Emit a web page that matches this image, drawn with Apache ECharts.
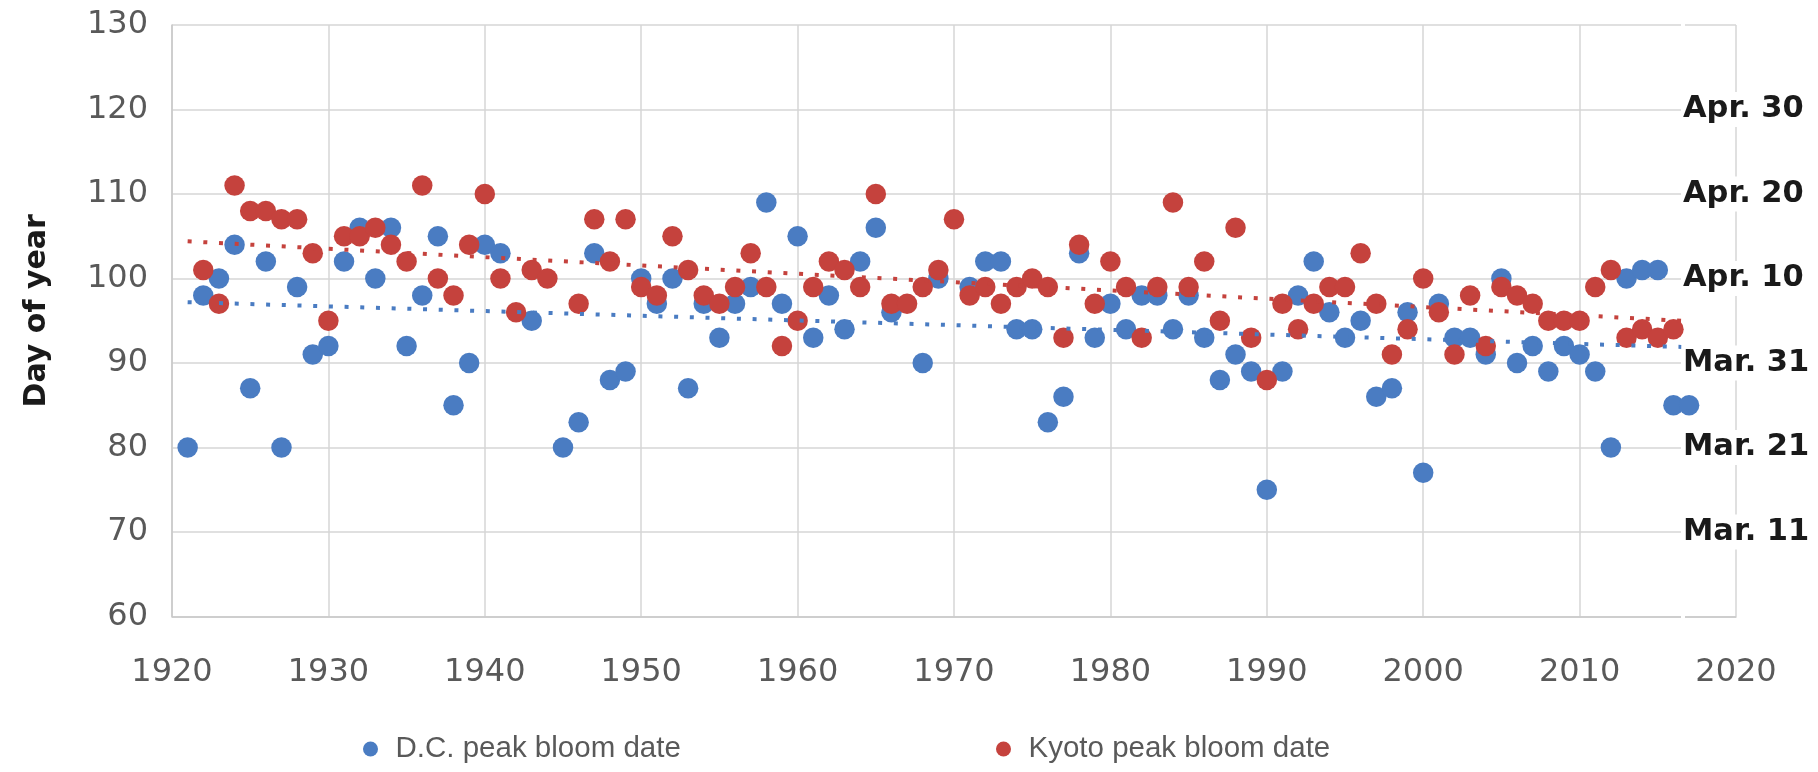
<!DOCTYPE html>
<html>
<head>
<meta charset="utf-8">
<script src="https://cdn.jsdelivr.net/npm/echarts@6/dist/echarts.min.js"></script>
<style>
  html, body { margin: 0; padding: 0; background: #ffffff; }
  #chart { width: 1818px; height: 772px; }
</style>
</head>
<body>
<div id="chart"></div>
<script>
// Peak bloom day-of-year, Washington D.C. and Kyoto
const dcYears = [1921,1922,1923,1924,1925,1926,1927,1928,1929,1930,1931,1932,1933,1934,1935,1936,1937,1938,1939,1940,
  1941,1943,1945,1946,1947,1948,1949,1950,1951,1952,1953,1954,1955,1956,1957,1958,1959,1960,1961,1962,1963,1964,1965,1966,
  1968,1969,1971,1972,1973,1974,1975,1976,1977,1978,1979,1980,1981,1982,1983,1984,1985,1986,1987,1988,1989,1990,
  1991,1992,1993,1994,1995,1996,1997,1998,1999,2000,2001,2002,2003,2004,2005,2006,2007,2008,2009,2010,
  2011,2012,2013,2014,2015,2016,2017];
const dcDays = [80,98,100,104,87,102,80,99,91,92,102,106,100,106,92,98,105,85,90,104,
  103,95,80,83,103,88,89,100,97,100,87,97,93,97,99,109,97,105,93,98,94,102,106,96,
  90,100,99,102,102,94,94,83,86,103,93,97,94,98,98,94,98,93,88,91,89,75,
  89,98,102,96,93,95,86,87,96,77,97,93,93,91,100,90,92,89,92,91,
  89,80,100,101,101,85,85];

const kyotoYears = [1922,1923,1924,1925,1926,1927,1928,1929,1930,1931,1932,1933,1934,1935,1936,1937,1938,1939,1940,
  1941,1942,1943,1944,1946,1947,1948,1949,1950,1951,1952,1953,1954,1955,1956,1957,1958,1959,1960,
  1961,1962,1963,1964,1965,1966,1967,1968,1969,1970,1971,1972,1973,1974,1975,1976,1977,1978,1979,1980,
  1981,1982,1983,1984,1985,1986,1987,1988,1989,1990,1991,1992,1993,1994,1995,1996,1997,1998,1999,2000,
  2001,2002,2003,2004,2005,2006,2007,2008,2009,2010,2011,2012,2013,2014,2015,2016];
const kyotoDays = [101,97,111,108,108,107,107,103,95,105,105,106,104,102,111,100,98,104,110,
  100,96,101,100,97,107,102,107,99,98,105,101,98,97,99,103,99,92,95,
  99,102,101,99,110,97,97,99,101,107,98,99,97,99,100,99,93,104,97,102,
  99,93,99,109,99,102,95,106,93,88,97,94,97,99,99,103,97,91,94,100,
  96,91,98,92,99,98,97,95,95,95,99,101,93,94,93,94];

// Linear trend lines (start and end of each dotted line)
const trendYears = [1921, 2016.5];
const dcTrend = [97.2, 91.9];
const kyotoTrend = [104.4, 95.0];

// Calendar dates for the right-hand scale
const dateTickValues = [70, 80, 90, 100, 110, 120];
const dateTickLabels = ['Mar. 11', 'Mar. 21', 'Mar. 31', 'Apr. 10', 'Apr. 20', 'Apr. 30'];

const legendNames = ['D.C. peak bloom date', 'Kyoto peak bloom date'];

const BLUE = '#4A7CC2';
const RED = '#C5423D';

const pairs = (xs, ys) => xs.map((x, i) => [x, ys[i]]);

const chart = echarts.init(document.getElementById('chart'), null, { renderer: 'canvas' });

const tickFont = { fontFamily: 'DejaVu Sans', fontSize: 32, color: '#595959' };
const legendText = { fontFamily: 'Liberation Sans', fontSize: 29.5, color: '#595959' };

chart.setOption({
  backgroundColor: '#ffffff',
  animation: false,
  grid: { left: 172, right: 82, top: 25, bottom: 155.5, containLabel: false },
  legend: [
    {
      data: [legendNames[0]], left: 358, top: 729, icon: 'circle',
      itemWidth: 40, itemHeight: 15, textStyle: legendText
    },
    {
      data: [legendNames[1]], left: 991, top: 729, icon: 'circle',
      itemWidth: 40, itemHeight: 15, textStyle: legendText
    }
  ],
  xAxis: {
    type: 'value', min: 1920, max: 2020, interval: 10,
    axisLine: { show: true, lineStyle: { color: '#C8C8C8', width: 1.5 } },
    axisTick: { show: false },
    axisLabel: Object.assign({ margin: 40, formatter: v => String(v) }, tickFont),
    splitLine: { show: true, lineStyle: { color: '#D6D6D6', width: 1.5 } }
  },
  yAxis: [
    {
      type: 'value', min: 60, max: 130, interval: 10,
      name: 'Day of year', nameLocation: 'middle', nameGap: 120,
      nameTextStyle: { fontFamily: 'DejaVu Sans', fontWeight: 'bold', fontSize: 30, color: '#1a1a1a', padding: [0, 0, 0, 20] },
      axisLine: { show: true, lineStyle: { color: '#C8C8C8', width: 1.5 } },
      axisTick: { show: false },
      axisLabel: Object.assign({ margin: 24, formatter: v => String(v) }, tickFont),
      splitLine: { show: true, lineStyle: { color: '#D6D6D6', width: 1.5 } }
    },
    {
      type: 'value', min: 60, max: 130, interval: 10, position: 'right',
      axisLine: { show: false }, axisTick: { show: false }, splitLine: { show: false },
      axisLabel: {
        margin: -55, align: 'left',
        fontFamily: 'DejaVu Sans', fontWeight: 'bold', fontSize: 30.5, color: '#1a1a1a',
        backgroundColor: '#ffffff', padding: [2, 2, 2, 2],
        formatter: v => {
          const i = dateTickValues.indexOf(v);
          return i >= 0 ? dateTickLabels[i] : '';
        }
      }
    }
  ],
  series: [
    {
      name: legendNames[0], type: 'scatter', symbolSize: 20.5,
      itemStyle: { color: BLUE, opacity: 1 },
      data: pairs(dcYears, dcDays), z: 2
    },
    {
      name: legendNames[1], type: 'scatter', symbolSize: 20.5,
      itemStyle: { color: RED, opacity: 1 },
      data: pairs(kyotoYears, kyotoDays), z: 3
    },
    {
      name: 'dcTrend', type: 'line', showSymbol: false, symbol: 'none', silent: true,
      lineStyle: { color: BLUE, width: 4, type: [4, 11.7], cap: 'butt' },
      data: pairs(trendYears, dcTrend), z: 4
    },
    {
      name: 'kyotoTrend', type: 'line', showSymbol: false, symbol: 'none', silent: true,
      lineStyle: { color: RED, width: 4, type: [4, 11.7], cap: 'butt' },
      data: pairs(trendYears, kyotoTrend), z: 5
    }
  ]
});
</script>
</body>
</html>
